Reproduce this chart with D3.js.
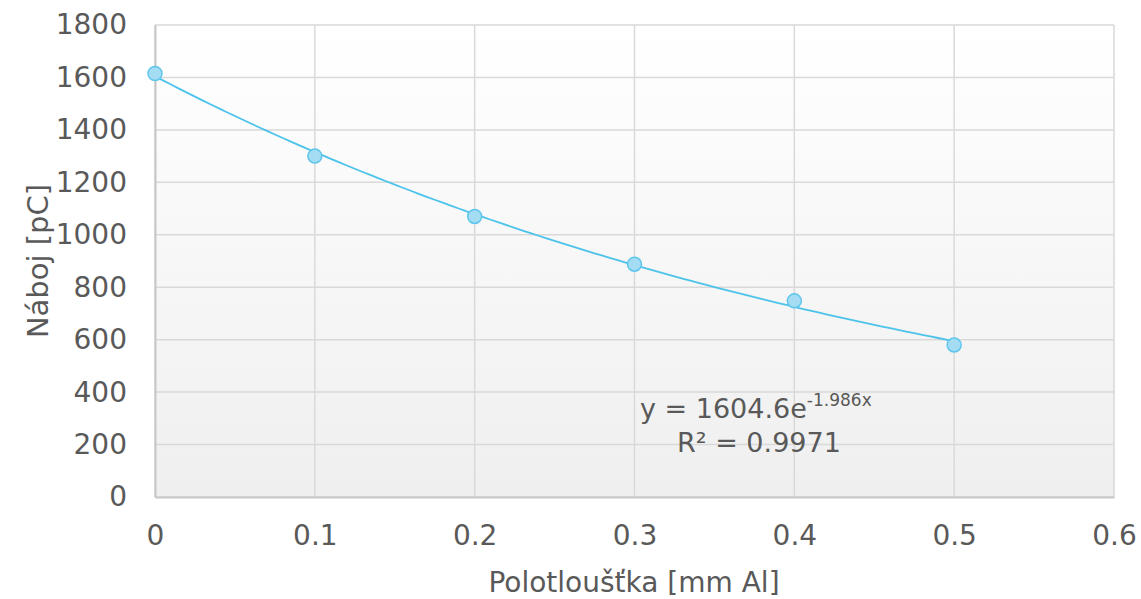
<!DOCTYPE html>
<html>
<head>
<meta charset="utf-8">
<script src="https://cdn.jsdelivr.net/npm/d3@7"></script>
<style>
  body { margin: 0; background: #fff; }
  svg text { font-family: "DejaVu Sans", sans-serif; fill: #595959; }
</style>
</head>
<body>
<svg id="chart" width="1141" height="599"></svg>
<script>
var thickness = [0, 0.1, 0.2, 0.3, 0.4, 0.5];
var charge    = [1615, 1300, 1070, 888, 748, 580];

var xTicks = [0, 0.1, 0.2, 0.3, 0.4, 0.5, 0.6];
var yTicks = [0, 200, 400, 600, 800, 1000, 1200, 1400, 1600, 1800];

// exponential trendline, as printed on the chart
var fitA = 1604.6, fitK = -1.986;

(function () {
  var svg = d3.select("#chart");
  var pLeft = 155, pRight = 1114, pTop = 25, pBottom = 497;

  var x = d3.scaleLinear().domain([0, 0.6]).range([pLeft, pRight]);
  var y = d3.scaleLinear().domain([0, 1800]).range([pBottom, pTop]);

  // plot background: white fading to light grey
  var grad = svg.append("defs").append("linearGradient").attr("id", "bg")
    .attr("x1", 0).attr("y1", 0).attr("x2", 0).attr("y2", 1);
  grad.append("stop").attr("offset", "0%").attr("stop-color", "#ffffff");
  grad.append("stop").attr("offset", "100%").attr("stop-color", "#efefef");

  svg.append("rect")
    .attr("x", pLeft).attr("y", pTop)
    .attr("width", pRight - pLeft).attr("height", pBottom - pTop)
    .attr("fill", "url(#bg)");

  // grid
  var grid = svg.append("g");
  grid.selectAll("line.h").data(yTicks).join("line")
    .attr("class", "h")
    .attr("x1", pLeft).attr("x2", pRight)
    .attr("y1", function (d) { return y(d); }).attr("y2", function (d) { return y(d); })
    .attr("stroke", "#d9d9d9").attr("stroke-width", 1.5);
  grid.selectAll("line.v").data(xTicks).join("line")
    .attr("class", "v")
    .attr("y1", pTop).attr("y2", pBottom)
    .attr("x1", function (d) { return x(d); }).attr("x2", function (d) { return x(d); })
    .attr("stroke", "#d9d9d9").attr("stroke-width", 1.5);

  // axes
  var xAxis = svg.append("g")
    .attr("transform", "translate(0," + pBottom + ")")
    .call(d3.axisBottom(x).tickValues(xTicks).tickSize(0).tickPadding(28)
      .tickFormat(function (d) { return d === 0 ? "0" : d3.format(".1f")(d); }));
  xAxis.select(".domain").attr("stroke", "#c8c8c8").attr("stroke-width", 2);
  xAxis.selectAll("text").style("font-size", "28px").attr("fill", "#595959");

  var yAxis = svg.append("g")
    .attr("transform", "translate(" + pLeft + ",0)")
    .call(d3.axisLeft(y).tickValues(yTicks).tickSize(0).tickPadding(28)
      .tickFormat(d3.format("d")));
  yAxis.select(".domain").attr("stroke", "#c8c8c8").attr("stroke-width", 2);
  yAxis.selectAll("text").style("font-size", "28px").attr("fill", "#595959");

  // axis titles
  svg.append("text")
    .attr("x", 634).attr("y", 592)
    .attr("text-anchor", "middle")
    .style("font-size", "28px")
    .text("Polotloušťka [mm Al]");

  svg.append("text")
    .attr("transform", "translate(48," + (pTop + pBottom) / 2 + ") rotate(-90)")
    .attr("text-anchor", "middle")
    .style("font-size", "29px")
    .text("Náboj [pC]");

  // trendline
  var fitX = d3.range(0, 0.5001, 0.005);
  svg.append("path")
    .datum(fitX)
    .attr("fill", "none")
    .attr("stroke", "#4cc3ea")
    .attr("stroke-width", 1.8)
    .attr("d", d3.line()
      .x(function (d) { return x(d); })
      .y(function (d) { return y(fitA * Math.exp(fitK * d)); }));

  // markers
  svg.append("g").selectAll("circle")
    .data(thickness)
    .join("circle")
    .attr("cx", function (d) { return x(d); })
    .attr("cy", function (d, i) { return y(charge[i]); })
    .attr("r", 7)
    .attr("fill", "#a3dcf3")
    .attr("stroke", "#5ec6ec")
    .attr("stroke-width", 1.5);

  // equation label
  var eq = svg.append("text")
    .attr("x", 640).attr("y", 418)
    .style("font-size", "27px");
  eq.append("tspan").text("y = 1604.6e");
  eq.append("tspan").attr("dy", -12).style("font-size", "17px").text("-1.986x");

  svg.append("text")
    .attr("x", 677).attr("y", 452)
    .style("font-size", "27px")
    .text("R² = 0.9971");
})();
</script>
</body>
</html>
